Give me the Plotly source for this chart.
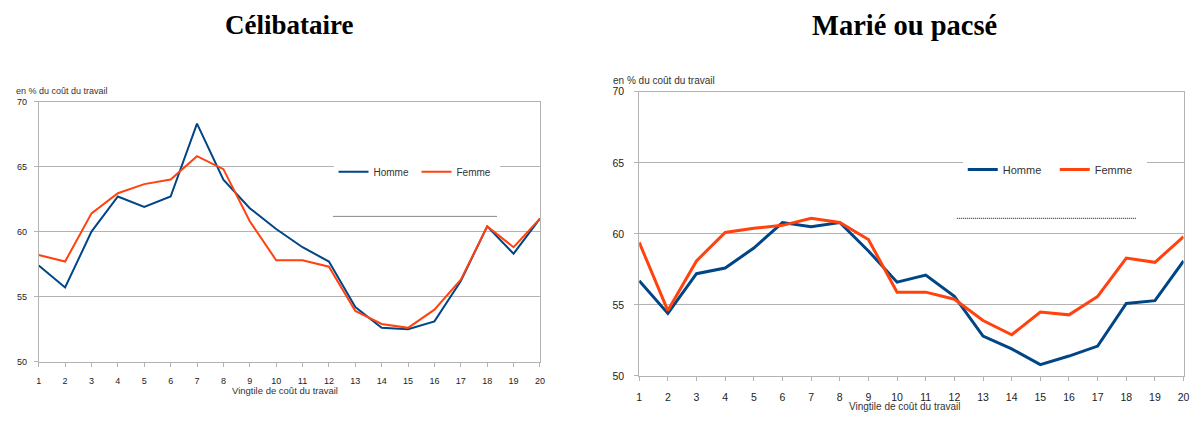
import plotly.graph_objects as go

# Vingtiles of labour cost
vingtiles = list(range(1, 21))

# Single people, in % of labour cost
celib_homme = [57.4, 55.7, 60.0, 62.7, 61.9, 62.7, 68.3, 64.0, 61.8, 60.2,
               58.8, 57.7, 54.2, 52.6, 52.5, 53.1, 56.2, 60.4, 58.3, 61.0]
celib_femme = [58.2, 57.7, 61.4, 62.95, 63.65, 64.0, 65.8, 64.8, 60.8, 57.8,
               57.8, 57.3, 53.9, 52.9, 52.6, 54.0, 56.3, 60.4, 58.8, 61.0]

# Married or in a civil partnership, in % of labour cost
marie_homme = [56.7, 54.4, 57.2, 57.6, 59.0, 60.8, 60.5, 60.8, 58.8, 56.6,
               57.1, 55.6, 52.8, 51.9, 50.8, 51.4, 52.1, 55.1, 55.3, 58.1]
marie_femme = [59.4, 54.6, 58.1, 60.1, 60.4, 60.6, 61.1, 60.8, 59.6, 55.9,
               55.9, 55.4, 53.9, 52.9, 54.5, 54.3, 55.6, 58.3, 58.0, 59.8]

y_ticks = [50, 55, 60, 65, 70]

W, H = 1203, 425
BLUE = "#004586"
RED = "#ff420e"
GRID = "#b3b3b3"
SANS = "Liberation Sans, Arial, sans-serif"
SERIF = "Liberation Serif, Times New Roman, serif"


def px_x(v):
    return v / W


def px_y(v):
    return 1 - v / H


fig = go.Figure()

fig.add_trace(go.Scatter(x=vingtiles, y=celib_homme, name="Homme", mode="lines",
                         line=dict(color=BLUE, width=2), xaxis="x", yaxis="y",
                         legend="legend"))
fig.add_trace(go.Scatter(x=vingtiles, y=celib_femme, name="Femme", mode="lines",
                         line=dict(color=RED, width=2), xaxis="x", yaxis="y",
                         legend="legend"))
fig.add_trace(go.Scatter(x=vingtiles, y=marie_homme, name="Homme", mode="lines",
                         line=dict(color=BLUE, width=3), xaxis="x2", yaxis="y2",
                         legend="legend2"))
fig.add_trace(go.Scatter(x=vingtiles, y=marie_femme, name="Femme", mode="lines",
                         line=dict(color=RED, width=3), xaxis="x2", yaxis="y2",
                         legend="legend2"))


def xaxis(domain, anchor, size):
    return dict(domain=domain, anchor=anchor, range=[1, 20], tickvals=vingtiles,
                showgrid=False, zeroline=False, showline=True, mirror=True,
                linecolor=GRID, linewidth=1, ticks="outside", ticklen=4,
                tickcolor=GRID, tickfont=dict(family=SANS, size=size, color="#222"),
                ticklabelstandoff=7, fixedrange=True)


def yaxis(domain, anchor, size, standoff):
    return dict(domain=domain, anchor=anchor, range=[50, 70], tickvals=y_ticks,
                showgrid=True, gridcolor=GRID, gridwidth=1, zeroline=False,
                showline=True, mirror=True, linecolor=GRID, linewidth=1,
                ticks="outside", ticklen=4, tickcolor=GRID,
                tickfont=dict(family=SANS, size=size, color="#222"),
                ticklabelstandoff=standoff, fixedrange=True)


fig.update_layout(
    width=W, height=H,
    margin=dict(l=0, r=0, t=0, b=0),
    paper_bgcolor="white", plot_bgcolor="white",
    xaxis=xaxis([px_x(36), px_x(541)], "y", 9),
    yaxis=yaxis([px_y(366), px_y(98.3)], "x", 9, 5),
    xaxis2=xaxis([px_x(641), px_x(1189.5)], "y2", 10.5),
    yaxis2=yaxis([px_y(380.7), px_y(88.3)], "x2", 10.5, 8),
    legend=dict(orientation="h", x=px_x(333), xanchor="left", y=px_y(170.5),
                yanchor="middle", bgcolor="white", borderwidth=0,
                font=dict(family=SANS, size=10, color="#333"),
                entrywidthmode="pixels", entrywidth=38, itemwidth=30,
                tracegroupgap=0),
    legend2=dict(orientation="h", x=px_x(967), xanchor="left", y=px_y(168.3),
                 yanchor="middle", bgcolor="white", borderwidth=0,
                 font=dict(family=SANS, size=11, color="#333"),
                 entrywidthmode="pixels", entrywidth=47, itemwidth=30,
                 tracegroupgap=0),
    showlegend=True,
)

# Panel titles
for text, xc, size in [("Célibataire", 288, 27), ("Marié ou pacsé", 908, 28.5)]:
    fig.add_annotation(text=f"<b>{text}</b>", x=px_x(xc), y=px_y(20),
                       xref="paper", yref="paper", xanchor="center",
                       yanchor="middle", showarrow=False,
                       font=dict(family=SERIF, size=size, color="black"))

# Axis titles
axis_titles = [
    ("en % du coût du travail", 11, 87, "left", 9),
    ("en % du coût du travail", 613, 77, "left", 10),
    ("Vingtile de coût du travail", 284, 396, "center", 9.5),
    ("Vingtile de coût du travail", 909, 412, "center", 10),
]
for text, xv, yv, anchor, size in axis_titles:
    fig.add_annotation(text=text, x=px_x(xv), y=px_y(yv), xref="paper",
                       yref="paper", xanchor=anchor, yanchor="middle",
                       showarrow=False,
                       font=dict(family=SANS, size=size, color="#333"))

# Thin dotted rules under the legends
for x0, x1, yv in [(333, 498, 216.5), (961, 1142, 218.5)]:
    fig.add_shape(type="line", xref="paper", yref="paper",
                  x0=px_x(x0), x1=px_x(x1), y0=px_y(yv), y1=px_y(yv),
                  line=dict(color="#111", width=1, dash="1px,1px"))

# Pin the page to the figure size
page_css = ("document.body.style.margin='0';"
            "document.body.style.overflow='hidden';")

fig.write_html("out.html", config=dict(displayModeBar=False),
               post_script=page_css)
